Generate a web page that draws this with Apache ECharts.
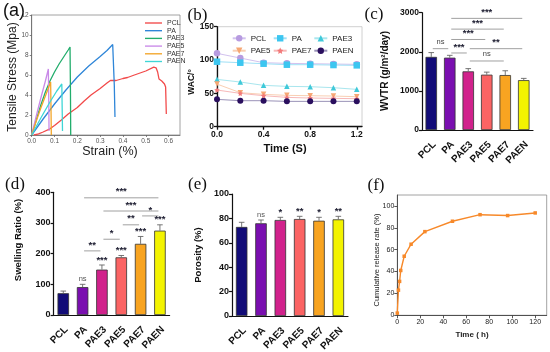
<!DOCTYPE html>
<html><head><meta charset="utf-8">
<script src="https://cdn.jsdelivr.net/npm/echarts@6/dist/echarts.min.js"></script>
<style>html,body{margin:0;padding:0;background:#fff}#c{width:550px;height:352px}</style>
</head><body><div id="c"></div>
<script>
// ---------- DATA ----------
// (a) tensile curves [strain, stress]
const tensNames = ['PCL','PA','PAE3','PAE5','PAE7','PAEN'];
const tensPCL = [[0.01,0],[0.03,0.12],[0.05,0.3],[0.08,0.62],[0.1,0.95],[0.13,1.5],[0.16,2.1],[0.2,2.75],[0.23,3.4],[0.26,4.0],[0.3,4.65],[0.33,5.2],[0.345,5.45],[0.352,5.3],[0.37,5.45],[0.4,5.65],[0.42,5.75],[0.45,6.0],[0.5,6.4],[0.535,6.78],[0.545,6.72],[0.552,6.3],[0.558,5.6],[0.57,5.4],[0.582,5.1],[0.587,4.8],[0.59,2.1]];
const tensPA = [[0,0],[0.05,1.6],[0.1,3.1],[0.15,4.5],[0.2,5.8],[0.25,6.9],[0.3,7.85],[0.33,8.45],[0.355,9.05],[0.36,8.9],[0.362,5],[0.365,1.8]];
const tensPAE3 = [[0,0],[0.02,1.5],[0.04,3.0],[0.06,4.3],[0.08,5.4],[0.1,6.3],[0.12,7.1],[0.14,7.8],[0.16,8.5],[0.168,8.8],[0.17,4],[0.171,0]];
const tensPAE5 = [[0,0],[0.02,1.9],[0.04,3.7],[0.06,5.4],[0.073,6.6],[0.075,3],[0.076,0.4]];
const tensPAE7 = [[0,0],[0.02,1.4],[0.04,2.7],[0.06,3.9],[0.083,5.3],[0.085,2],[0.086,0]];
const tensPAEN = [[0,0],[0.04,1.7],[0.08,3.3],[0.11,4.4],[0.132,5.1],[0.134,2],[0.135,0.4]];
// (b) WAC vs time
const wacTime = [0,0.2,0.4,0.6,0.8,1.0,1.2];
const wacPCL = [110,103,96,95,94.5,94,93.5];
const wacPA = [97.5,96,94.5,93,93,92.5,92];
const wacPAE3 = [71,67,62,60.5,60,58.5,56];
const wacPAE5 = [64,51,48.5,47,46.5,46,45];
const wacPAE7 = [55,50,46.5,44,43,42.5,42];
const wacPAEN = [41,39,39,38,38,38,38];
// bar categories
const barCats = ['PCL','PA','PAE3','PAE5','PAE7','PAEN'];
// (c) WVTR
const wvtrMean = [1870,1850,1500,1415,1405,1275];
const wvtrSd = [110,60,70,65,110,45];
const wvtrSig = [[0,1,2080,'ns'],[1,2,1970,'***'],[1,3,2315,'***'],[1,4,2580,'***'],[1,5,2855,'***'],[2,5,2080,'**'],[2,4,1765,'ns']];
// (d) swelling
const swellMean = [71,91,148,188,232,275];
const swellSd = [7,9,15,6,24,19];
const swellStars = ['','ns','***','***','***','***'];
const swellSig = [[1,2,209,'**'],[2,3,247,'*'],[3,4,294,'**'],[4,5,323,'*'],[2,5,339,'***'],[1,5,382,'***']];
// (e) porosity
const poroMean = [73,76,78.7,79.5,78.1,79.2];
const poroSd = [3.8,2.7,2.2,2.2,2.8,2.5];
const poroStars = ['','ns','*','**','*','**'];
// (f) release
const relTime = [0,1,2,3,6,12,24,48,72,96,120];
const relRate = [2,23,31,41,54,65,76.5,86,92,91.2,93.6];

// ---------- STYLE ----------
const F = "'Liberation Sans', Arial, sans-serif";
const SERIF = "'Liberation Serif', 'Times New Roman', serif";
const tensColors = ['#f24a4a','#2f86d8','#22ad6c','#c98ae8','#f3a62a','#3fd6d6'];
const barColors = ['#120c78','#7a0fb0','#d1228c','#fb6464','#f8a421','#f3f300'];
const wacSym = [
  {s:'circle',c:'#b79be0',l:'#d2c2ef',size:6.5,r:0},
  {s:'rect',c:'#3cc6f0',l:'#9fe0f6',size:6.5,r:0},
  {s:'triangle',c:'#3fc9d9',l:'#a9e6ee',size:5.5,r:0},
  {s:'triangle',c:'#f6a774',l:'#f9cfb3',size:5.5,r:180},
  {s:'path://M0,-10L2.9,-4L9.5,-3.1L4.7,1.5L5.9,8.1L0,5L-5.9,8.1L-4.7,1.5L-9.5,-3.1L-2.9,-4Z',c:'#f27a7a',l:'#f7b9b9',size:5.5,r:0},
  {s:'circle',c:'#2a0f5e',l:'#9a92b8',size:6,r:0}
];
const wacData = [wacPCL,wacPA,wacPAE3,wacPAE5,wacPAE7,wacPAEN];
const tensData = [tensPCL,tensPA,tensPAE3,tensPAE5,tensPAE7,tensPAEN];

const grids = [
  {left:31.7, top:15, width:148.3, height:120, show:true, borderColor:'#8a8a8a', borderWidth:0.8},
  {left:217, top:26.7, width:145, height:100, show:true, borderColor:'#c4c4c4', borderWidth:0.8},
  {left:422, top:12.7, width:111, height:117.3},
  {left:53.6, top:192.3, width:116, height:122.7},
  {left:232, top:194, width:116, height:122},
  {left:397.3, top:195, width:149.4, height:120.3, show:true, borderColor:'#8a8a8a', borderWidth:0.8}
];

function valAxis(grid, min, max, interval, o) {
  return {
    type:'value', gridIndex:grid, min, max, interval,
    splitLine:{show:false},
    axisLine:{show:true, onZero:false, lineStyle:{color:o.lc||'#111', width:o.lw||1}},
    axisTick:{show:true, length:o.tl||3, lineStyle:{color:o.lc||'#111', width:o.lw||1}},
    axisLabel:{fontSize:o.fs, fontWeight:o.fw||'normal', color:o.tc||'#111', fontFamily:F, margin:o.m||3, showMaxLabel:o.sml!==false,
      formatter: o.fmt || (v=>String(v))}
  };
}
function catAxis(grid) {
  return {type:'category', gridIndex:grid, data:barCats,
    axisLine:{lineStyle:{color:'#111', width:1.2}},
    axisTick:{alignWithLabel:true, length:3, lineStyle:{color:'#111', width:1}},
    axisLabel:{show:false}};
}

const xAxis = [
  valAxis(0, 0, 0.65, 0.1, {fs:6.5, tc:'#555', lc:'#666', lw:0.8, tl:2, sml:false, fmt:v=>v.toFixed(1)}),
  valAxis(1, 0, 1.245, 0.4, {fs:8.5, fw:'bold', lw:1.3, sml:false, fmt:v=>v.toFixed(1)}),
  catAxis(2),
  catAxis(3),
  catAxis(4),
  valAxis(5, 0, 130, 20, {fs:7, tc:'#222', lc:'#444', lw:0.9, tl:3, sml:false})
];
const yAxis = [
  valAxis(0, 0, 12, 2, {fs:6.5, tc:'#555', lc:'#666', lw:0.8, tl:2}),
  valAxis(1, 0, 150, 50, {fs:8.5, fw:'bold', lw:1.3}),
  valAxis(2, 0, 3000, 1000, {fs:8.5, fw:'bold', lw:1.2}),
  valAxis(3, 0, 400, 100, {fs:9, fw:'bold', lw:1.2}),
  valAxis(4, 0, 100, 20, {fs:9, fw:'bold', lw:1.2}),
  valAxis(5, 0, 110, 20, {fs:7, tc:'#222', lc:'#444', lw:0.9, tl:3, sml:false})
];

const series = [];
// (a)
tensData.forEach((d,i)=>{
  series.push({type:'line', name:'a:'+tensNames[i], xAxisIndex:0, yAxisIndex:0, data:d, symbol:'none',
    lineStyle:{color:tensColors[i], width:1.3}, itemStyle:{color:tensColors[i]}, z:i===5?4:3});
});
// (b)
wacData.forEach((d,i)=>{
  const s = wacSym[i];
  series.push({type:'line', name:'b:'+tensNames[i], xAxisIndex:1, yAxisIndex:1,
    data: d.map((v,j)=>[wacTime[j], v]), symbol:s.s, symbolSize:s.size, symbolRotate:s.r, showSymbol:true,
    lineStyle:{color:s.l, width:1}, itemStyle:{color:s.c}, z:3});
});

function barSeries(grid, means) {
  return {type:'bar', xAxisIndex:grid, yAxisIndex:grid, barWidth:11.5,
    data: means.map((v,i)=>({value:v, itemStyle:{color:barColors[i]}})),
    itemStyle:{borderColor:'#333', borderWidth:0.8}, z:2};
}
function errSeries(grid, means, sds) {
  return {type:'custom', xAxisIndex:grid, yAxisIndex:grid, z:3, silent:true,
    data: means.map((m,i)=>[i, m, m+sds[i]]),
    encode:{x:0, y:[1,2]},
    renderItem:(p, api)=>{
      const a = api.coord([api.value(0), api.value(1)]);
      const b = api.coord([api.value(0), api.value(2)]);
      return {type:'group', children:[
        {type:'line', shape:{x1:a[0], y1:a[1], x2:b[0], y2:b[1]}, style:{stroke:'#666', lineWidth:0.9}},
        {type:'line', shape:{x1:b[0]-2.8, y1:b[1], x2:b[0]+2.8, y2:b[1]}, style:{stroke:'#666', lineWidth:0.9}}
      ]};
    }};
}
function sigSeries(grid, sigs) {
  return {type:'custom', xAxisIndex:grid, yAxisIndex:grid, z:6, silent:true, clip:false,
    data: sigs.map(s=>[s[0], s[1], s[2]]),
    encode:{x:[0,1], y:2},
    renderItem:(p, api)=>{
      const lab = sigs[p.dataIndex][3];
      const a = api.coord([api.value(0), api.value(2)]);
      const b = api.coord([api.value(1), api.value(2)]);
      const ns = lab==='ns';
      return {type:'group', children:[
        {type:'line', shape:{x1:a[0]+1.5, y1:a[1], x2:b[0]-1.5, y2:b[1]}, style:{stroke:'#a0a0a0', lineWidth:1}},
        {type:'text', x:(a[0]+b[0])/2, y:a[1]-(ns?3:1), style:{text:lab, fill:ns?'#444':'#1a1a2e',
          fontSize:ns?7.5:9.5, fontWeight:ns?'normal':'bold', fontFamily:F, align:'center', verticalAlign:'bottom'}}
      ]};
    }};
}
function starSeries(grid, means, sds, labels) {
  return {type:'custom', xAxisIndex:grid, yAxisIndex:grid, z:6, silent:true, clip:false,
    data: means.map((m,i)=>[i, m+sds[i]]),
    encode:{x:0, y:1},
    renderItem:(p, api)=>{
      const lab = labels[p.dataIndex];
      if (!lab) return null;
      const a = api.coord([api.value(0), api.value(1)]);
      const ns = lab==='ns';
      return {type:'text', x:a[0], y:a[1]-(ns?1.5:0), style:{text:lab, fill:ns?'#555':'#1a1a2e',
        fontSize:ns?7.5:9.5, fontWeight:ns?'normal':'bold', fontFamily:F, align:'center', verticalAlign:'bottom'}};
    }};
}
// rotated category labels (GraphPad style)
function catLabelSeries(grid, dx, dy, fs) {
  return {type:'custom', xAxisIndex:grid, yAxisIndex:grid, z:6, silent:true, clip:false,
    data: barCats.map((c,i)=>[i, 0]),
    encode:{x:0, y:1},
    renderItem:(p, api)=>{
      const a = api.coord([api.value(0), api.value(1)]);
      return {type:'text', x:a[0]+dx, y:a[1]+dy, rotation:Math.PI/4,
        style:{text:barCats[p.dataIndex], fill:'#111', fontSize:fs, fontWeight:'bold', fontFamily:F, align:'right', verticalAlign:'middle'}};
    }};
}
// (c)
series.push(barSeries(2, wvtrMean), errSeries(2, wvtrMean, wvtrSd), sigSeries(2, wvtrSig), catLabelSeries(2, 3, 13, 10));
// (d)
series.push(barSeries(3, swellMean), errSeries(3, swellMean, swellSd), sigSeries(3, swellSig), starSeries(3, swellMean, swellSd, swellStars), catLabelSeries(3, 3, 13, 10));
// (e)
series.push(barSeries(4, poroMean), errSeries(4, poroMean, poroSd), starSeries(4, poroMean, poroSd, poroStars), catLabelSeries(4, 3, 13, 10));
// (f)
series.push({type:'line', xAxisIndex:5, yAxisIndex:5, data: relTime.map((t,i)=>[t, relRate[i]]),
  symbol:'rect', symbolSize:3.5, showSymbol:true, lineStyle:{color:'#f7892a', width:1.4}, itemStyle:{color:'#f7892a'}});

const strip = n => n.split(':')[1];
const legA = {orient:'vertical', left:140, top:14.5, itemWidth:17, itemHeight:7, itemGap:0.7,
  icon:'path://M0,0H20V1.6H0Z',
  data: tensNames.map(n=>'a:'+n), formatter:strip, selectedMode:false,
  textStyle:{fontSize:7, color:'#333', fontFamily:F}};
function legB(left, names) {
  return {orient:'vertical', left, top:29.3, itemWidth:13, itemHeight:8, itemGap:4.4,
    data: names.map(n=>'b:'+n), formatter:strip, selectedMode:false,
    textStyle:{fontSize:8, color:'#222', fontFamily:F}};
}

function txt(x, y, text, fs, o) {
  o = o || {};
  return {type:'text', x, y, rotation:o.rot||0, silent:true,
    style:{text, fontSize:fs, fontWeight:o.fw||'normal', fontFamily:o.ff||F, fill:o.c||'#111', align:'center', verticalAlign:'middle'}};
}
const R = Math.PI/2;
const graphic = [
  txt(14, 11.5, '(a)', 18, {ff:F}),
  txt(197.5, 15.5, '(b)', 17, {ff:SERIF}),
  txt(374, 15, '(c)', 17, {ff:SERIF}),
  txt(15, 184.5, '(d)', 17, {ff:SERIF}),
  txt(197.5, 184.5, '(e)', 17, {ff:SERIF}),
  txt(376, 185.5, '(f)', 17, {ff:SERIF}),
  txt(13, 77, 'Tensile Stress (Mpa)', 12, {rot:R, c:'#222'}),
  txt(110, 152, 'Strain (%)', 12.5, {c:'#222'}),
  txt(192, 82, 'WAC/°', 8.5, {rot:R, fw:'bold'}),
  txt(285, 149, 'Time (S)', 11, {fw:'bold'}),
  txt(385, 71, 'WVTR (g/m²/day)', 10, {rot:R, fw:'bold'}),
  txt(18, 240, 'Swelling Ratio (%)', 9.5, {rot:R, fw:'bold'}),
  txt(198, 255, 'Porosity (%)', 9.5, {rot:R, fw:'bold'}),
  txt(376.5, 260, 'Cumulative release rate (%)', 7.5, {rot:R, c:'#222'}),
  txt(472, 334.5, 'Time ( h)', 8, {fw:'bold', c:'#222'})
];

const chart = echarts.init(document.getElementById('c'), null, {renderer:'canvas'});
chart.setOption({
  animation:false, backgroundColor:'#fff',
  grid: grids, xAxis, yAxis, series,
  legend: [legA, legB(226.7, ['PCL','PAE5']), legB(267.7, ['PA','PAE7']), legB(308.3, ['PAE3','PAEN'])],
  graphic
});
</script></body></html>
